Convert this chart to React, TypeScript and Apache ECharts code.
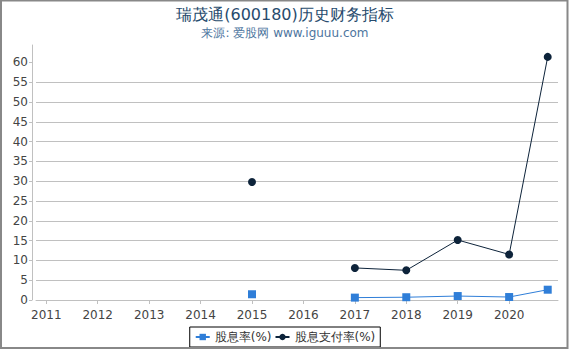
import React, { useEffect, useRef } from "react";
import * as echarts from "echarts";

const xPositions = [2015, 2016, 2017, 2018, 2019, 2020, 2020.75];
const yieldValues: (number | null)[] = [1.45, null, 0.6, 0.7, 1.0, 0.75, 2.6];
const payoutValues: (number | null)[] = [29.8, null, 8.1, 7.5, 15.15, 11.5, 61.4];
const yearTicks = [2011, 2012, 2013, 2014, 2015, 2016, 2017, 2018, 2019, 2020];
const yTicks = [0, 5, 10, 15, 20, 25, 30, 35, 40, 45, 50, 55, 60];

const FONT = "DejaVu Sans";

export default function App() {
  const ref = useRef<HTMLDivElement>(null);
  useEffect(() => {
    if (!ref.current) return;
    const chart = echarts.init(ref.current, null, { renderer: "svg" });
    const toData = (vals: (number | null)[]) =>
      xPositions.map((x, i) => [x, vals[i] === null ? "-" : vals[i]]);
    chart.setOption({
      animation: false,
      backgroundColor: "#fff",
      title: {
        text: "瑞茂通(600180)历史财务指标",
        subtext: "来源: 爱股网 www.iguuu.com",
        left: "center",
        top: 1,
        itemGap: 5,
        textStyle: { fontFamily: FONT, fontSize: 16, fontWeight: "normal", color: "#274b6d" },
        subtextStyle: { fontFamily: FONT, fontSize: 12, color: "#4d759e" },
      },
      grid: { left: 36, right: 12, top: 45, bottom: 50, containLabel: false },
      xAxis: {
        type: "value",
        min: 2010.8,
        max: 2020.95,
        offset: 4,
        splitLine: { show: false },
        axisLine: { show: true, lineStyle: { color: "#c0c0c0", width: 1 } },
        axisTick: { show: true, length: 4, customValues: yearTicks, lineStyle: { color: "#c0c0c0" } },
        axisLabel: {
          customValues: yearTicks,
          formatter: (v: number) => String(Math.round(v)),
          fontFamily: FONT,
          fontSize: 12,
          color: "#444",
          margin: 5,
        },
      },
      yAxis: {
        type: "value",
        min: 0,
        max: 64.4,
        interval: 5,
        offset: 4,
        axisLine: { show: true, lineStyle: { color: "#c0c0c0", width: 1 } },
        axisTick: { show: true, length: 3, customValues: yTicks, lineStyle: { color: "#c0c0c0" } },
        splitLine: { show: true, showMaxLine: false, lineStyle: { color: "#c0c0c0", width: 1 } },
        axisLabel: {
          customValues: yTicks,
          fontFamily: FONT,
          fontSize: 12,
          color: "#444",
          margin: 4,
        },
      },
      legend: {
        bottom: 3,
        left: "center",
        borderColor: "#000",
        borderWidth: 1,
        borderRadius: 0,
        padding: [4, 5, 4, 5],
        itemGap: 3,
        itemWidth: 14,
        itemHeight: 8,
        textStyle: { fontFamily: FONT, fontSize: 12, color: "#333" },
        data: ["股息率(%)", "股息支付率(%)"],
      },
      series: [
        {
          name: "股息率(%)",
          type: "line",
          data: toData(yieldValues),
          connectNulls: false,
          symbol: "rect",
          symbolSize: 8,
          itemStyle: { color: "#2f7ed8" },
          lineStyle: { color: "#2f7ed8", width: 1 },
        },
        {
          name: "股息支付率(%)",
          type: "line",
          data: toData(payoutValues),
          connectNulls: false,
          symbol: "circle",
          symbolSize: 8,
          itemStyle: { color: "#0d233a" },
          lineStyle: { color: "#0d233a", width: 1 },
        },
      ],
      graphic: [
        {
          type: "rect",
          shape: { x: 1, y: 0.5, width: 566.5, height: 347.5 },
          style: { fill: "none", stroke: "#888", lineWidth: 2 },
          silent: true,
          z: 100,
        },
      ],
    });
    return () => chart.dispose();
  }, []);
  return (
    <div
      ref={ref}
      style={{ position: "fixed", left: 0, top: 0, width: 570, height: 350 }}
    />
  );
}
